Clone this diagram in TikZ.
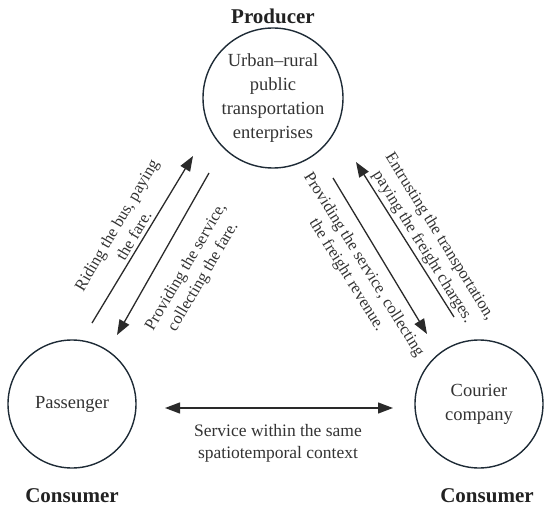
\documentclass[tikz,border=0pt]{standalone}
\usepackage{fontspec}
\setmainfont{Liberation Serif}
\usetikzlibrary{arrows.meta}
\definecolor{circ}{HTML}{1E2B36}
\definecolor{txt}{HTML}{333333}
\definecolor{lbl}{HTML}{222222}
\definecolor{arr}{HTML}{2A2A2A}
\begin{document}
\begin{tikzpicture}[x=1pt,y=-1pt,
  ent/.style={circle,draw=circ,line width=1.4pt,inner sep=0pt,text=txt,align=center,font=\fontsize{18.5}{24}\selectfont},
  role/.style={font=\bfseries\fontsize{21}{24}\selectfont,text=lbl,inner sep=0pt},
  flow/.style={draw=arr,line width=1.3pt,-{Triangle[length=15pt,width=11pt]}},
  both/.style={draw=arr,line width=1.3pt,{Triangle[length=15pt,width=11pt]}-{Triangle[length=15pt,width=11pt]}},
  lab/.style={text=txt,align=center,font=\fontsize{16.5}{20}\selectfont,inner sep=0pt}]
\useasboundingbox (0,0) rectangle (550,511);
% entities
\node[ent,minimum size=140pt] (prod) at (273,98) {Urban--rural\\public\\transportation\\enterprises};
\node[ent,minimum size=128pt] (pass) at (72,404) {Passenger};
\node[ent,minimum size=128pt] (cour) at (479,404) {Courier\\company};
% roles
\node[role] (rp) at (273,16) {Producer};
\node[role] (rc1) at (72,496) {Consumer};
\node[role] (rc2) at (487,496) {Consumer};
% arrow end points
\coordinate (a1s) at (92,323);  \coordinate (a1e) at (193,156);
\coordinate (a2s) at (209,173); \coordinate (a2e) at (117,335);
\coordinate (a3s) at (454,317); \coordinate (a3e) at (356,162);
\coordinate (a4s) at (333,178); \coordinate (a4e) at (427,334);
\coordinate (a5s) at (165,408); \coordinate (a5e) at (393,408);
\draw[flow] (a1s) -- (a1e);
\draw[flow] (a2s) -- (a2e);
\draw[flow] (a3s) -- (a3e);
\draw[flow] (a4s) -- (a4e);
\draw[both] (a5s) -- (a5e);
% labels
\node[lab,rotate=59.5] (t1) at (125,230) {Riding the bus, paying\\the fare.};
\node[lab,rotate=59.5] (t2) at (195,272) {Providing the service,\\collecting the fare.};
\node[lab,rotate=-58] (t3) at (431,242) {Entrusting the transportation,\\paying the freight charges.};
\node[lab,rotate=-58] (t4) at (355,270) {Providing the service, collecting\\the freight revenue.};
\node[text=txt,align=center,font=\fontsize{17.5}{22}\selectfont,inner sep=0pt] (svc) at (278,443) {Service within the same\\spatiotemporal context};
\end{tikzpicture}
\end{document}
